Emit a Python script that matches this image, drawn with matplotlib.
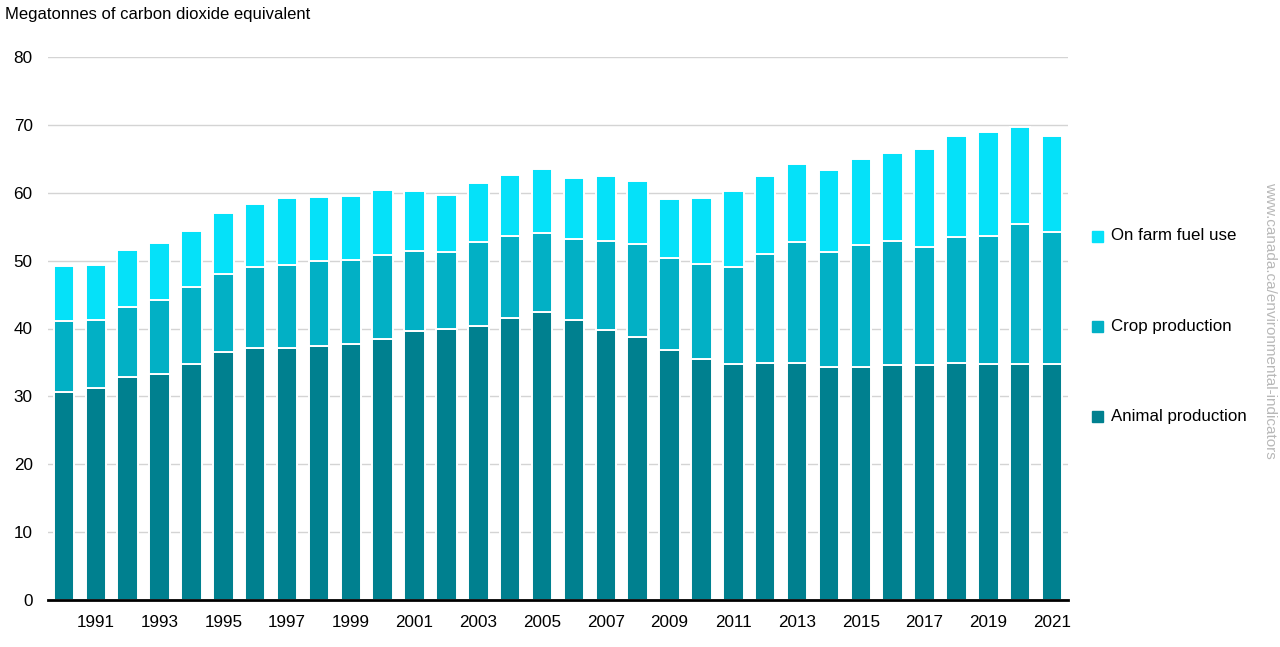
import numpy as np
import matplotlib
matplotlib.use("Agg")
from matplotlib import pyplot as plt
from matplotlib.patches import Rectangle

plt.rcParams['font.family'] = ['Liberation Sans', 'DejaVu Sans']

years = list(range(1990, 2022))
# megatonnes CO2 eq
animal = [30.7, 31.3, 32.8, 33.3, 34.7, 36.5, 37.1, 37.1, 37.4, 37.7,
          38.5, 39.6, 39.9, 40.3, 41.5, 42.4, 41.2, 39.8, 38.8, 36.8,
          35.5, 34.7, 34.9, 34.9, 34.4, 34.3, 34.6, 34.6, 34.9, 34.8,
          34.7, 34.8]
crop_top = [41.1, 41.2, 43.1, 44.2, 46.1, 48.1, 49.1, 49.3, 50.0, 50.1,
            50.9, 51.4, 51.3, 52.8, 53.6, 54.1, 53.2, 52.9, 52.5, 50.4,
            49.5, 49.1, 51.0, 52.7, 51.2, 52.3, 52.9, 52.0, 53.5, 53.6,
            55.4, 54.2]
total = [49.2, 49.4, 51.5, 52.6, 54.3, 57.0, 58.4, 59.3, 59.4, 59.5,
         60.4, 60.2, 59.7, 61.5, 62.6, 63.5, 62.2, 62.4, 61.8, 59.1,
         59.3, 60.2, 62.4, 64.3, 63.3, 65.0, 65.9, 66.4, 68.4, 68.9,
         69.7, 68.4]
crop = [c - a for c, a in zip(crop_top, animal)]
fuel = [t - c for t, c in zip(total, crop_top)]

c_animal = "#00808F"
c_crop = "#02B0C5"
c_fuel = "#05E1F9"

fig = plt.figure(figsize=(12.8, 6.47), dpi=100)
ax = fig.add_axes([48/1280, 47/647, 1020/1280, 543/647])

x = np.arange(len(years))
w = 0.64
kw = dict(width=w, edgecolor="white", linewidth=1.4, zorder=3)
ax.bar(x, animal, color=c_animal, **kw)
ax.bar(x, crop, bottom=animal, color=c_crop, **kw)
ax.bar(x, fuel, bottom=crop_top, color=c_fuel, **kw)

ax.set_xlim(-0.5, 31.5)
ax.set_ylim(0, 80)
ax.set_yticks(range(0, 81, 10))
ax.yaxis.grid(True, color="#d4d4d4", linewidth=1, zorder=0)
ax.set_xticks(x[1::2])
ax.set_xticklabels([str(y) for y in years[1::2]])
ax.tick_params(axis="both", length=0, labelsize=12.3, colors="black")
ax.tick_params(axis="x", pad=11)
ax.tick_params(axis="y", pad=11)
for s in ["top", "right", "left"]:
    ax.spines[s].set_visible(False)
ax.spines["bottom"].set_linewidth(2)
ax.spines["bottom"].set_zorder(4)

fig.text(5/1280, 1 - 15/647, "Megatonnes of carbon dioxide equivalent",
         fontsize=12, va="center", ha="left")

# legend
leg = [("On farm fuel use", c_fuel, 236), ("Crop production", c_crop, 326),
       ("Animal production", c_animal, 416)]
for lbl, col, yy in leg:
    fig.patches.append(Rectangle((1092/1280, 1 - (yy + 6)/647), 11/1280, 11/647,
                                 transform=fig.transFigure, color=col))
    fig.text(1111/1280, 1 - yy/647, lbl, fontsize=12.2, va="center", ha="left")

fig.text(1270/1280, 1 - 320/647, "www.canada.ca/environmental-indicators",
         rotation=-90, fontsize=11, color="#b8b8b8", va="center", ha="center")

fig.savefig("out.png", dpi=100)
